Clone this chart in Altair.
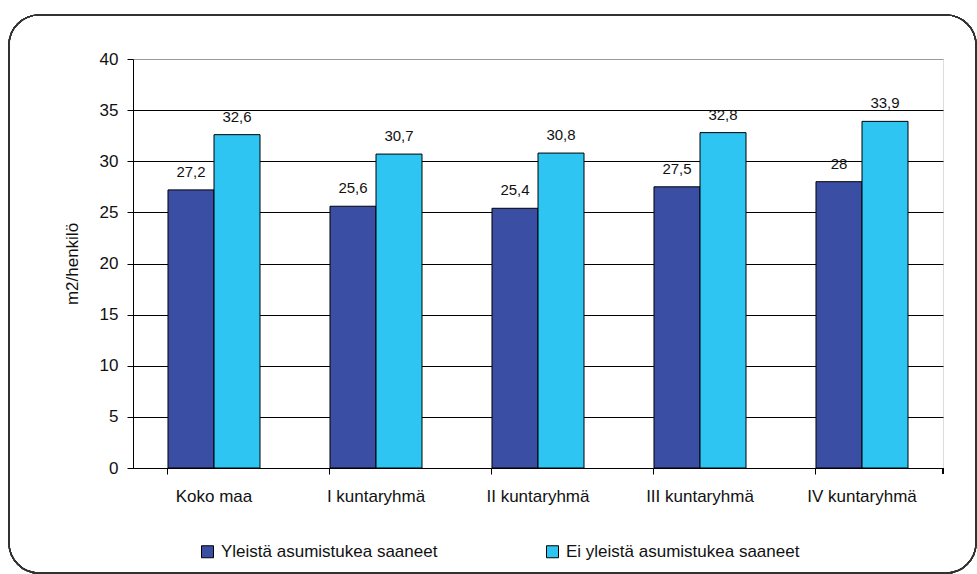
import altair as alt
import pandas as pd

# Living space per person (m2/henkilö) by municipality group
categories = ["Koko maa", "I kuntaryhmä", "II kuntaryhmä", "III kuntaryhmä", "IV kuntaryhmä"]
series_names = ["Yleistä asumistukea saaneet", "Ei yleistä asumistukea saaneet"]
with_support = [27.2, 25.6, 25.4, 27.5, 28.0]
without_support = [32.6, 30.7, 30.8, 32.8, 33.9]
y_ticks = [0, 5, 10, 15, 20, 25, 30, 35, 40]
colors = ["#3a4ea3", "#2ec5f3"]

rows = []
for cat, a, b in zip(categories, with_support, without_support):
    rows.append({"ryhma": cat, "sarja": series_names[0], "arvo": a})
    rows.append({"ryhma": cat, "sarja": series_names[1], "arvo": b})
df = pd.DataFrame(rows)
df["nimi"] = df["arvo"].map(lambda v: f"{v:g}".replace(".", ","))

FONT = "Liberation Sans"
W, H = 810, 409

x_enc = alt.X(
    "ryhma:N",
    sort=categories,
    title=None,
    scale=alt.Scale(paddingInner=0.432, paddingOuter=0.216),
    axis=alt.Axis(
        bandPosition=0,
        labelPadding=14,
        labelAngle=0,
        labelFontSize=17,
        labelFont=FONT,
        labelColor="#111",
        tickSize=6,
        tickColor="black",
        domainColor="black",
        grid=False,
    ),
)
y_enc = alt.Y(
    "arvo:Q",
    title="m2/henkilö",
    scale=alt.Scale(domain=[0, 40], nice=False),
    axis=alt.Axis(
        values=y_ticks,
        labelFontSize=17,
        labelFont=FONT,
        labelColor="#111",
        labelPadding=9,
        tickSize=6,
        tickColor="black",
        domainColor="black",
        gridColor=alt.condition("datum.value == 40", alt.value("#9a9a9a"), alt.value("black")),
        gridOpacity=1,
        titleFont=FONT,
        titleFontSize=17,
        titleFontWeight="normal",
        titleColor="#111",
        titlePadding=18,
    ),
)

base = alt.Chart(df).encode(
    x=x_enc,
    xOffset=alt.XOffset("sarja:N", sort=series_names, scale=alt.Scale(paddingInner=0, paddingOuter=0)),
)

bars = base.mark_bar(stroke="black", strokeWidth=1).encode(
    y=y_enc,
    color=alt.Color(
        "sarja:N",
        sort=series_names,
        scale=alt.Scale(domain=series_names, range=colors),
        legend=alt.Legend(
            title=None,
            orient="none",
            legendX=66,
            legendY=484,
            direction="horizontal",
            symbolType="square",
            symbolSize=144,
            symbolStrokeColor="black",
            symbolStrokeWidth=1,
            symbolOpacity=1,
            labelFont=FONT,
            labelFontSize=17,
            labelColor="#111",
            labelOffset=5,
            columnPadding=106,
            labelLimit=400,
        ),
    ),
)

labels = base.mark_text(
    baseline="bottom", dy=-10, font=FONT, fontSize=15, color="#111"
).encode(y="arvo:Q", text="nimi:N")

# closing tick at the right end of the category axis
end_tick = alt.Chart(df).mark_rule(color="black", strokeWidth=1).encode(
    x=alt.value(W), y=alt.value(H), y2=alt.value(H + 6)
)

# rounded frame around the whole figure
frame = alt.Chart(df).mark_rect(
    fill=None, stroke="#333", strokeWidth=1.2, cornerRadius=30
).encode(
    x=alt.value(-124), x2=alt.value(843), y=alt.value(-44), y2=alt.value(514)
)

chart = (
    alt.layer(frame, bars, labels, end_tick)
    .properties(width=W, height=H, padding={"left": 8, "top": 14, "right": 0, "bottom": 0})
    .configure_view(stroke="#9a9a9a", strokeWidth=1)
    .configure(background="white")
)

chart.save("out.html", embed_options={"renderer": "svg", "actions": False})
